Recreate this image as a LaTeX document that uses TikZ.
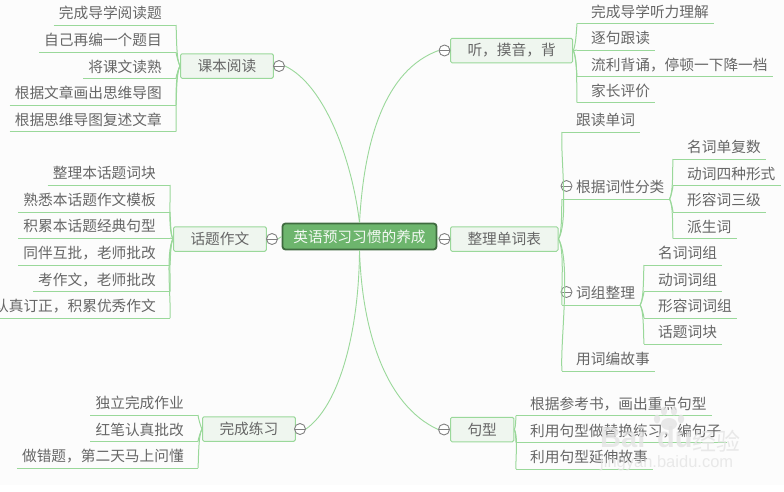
\documentclass[tikz,border=0pt]{standalone}
\usepackage{fontspec}
\setmainfont{Noto Sans CJK SC}
\newfontfamily\stampfont{Liberation Sans}
\usepackage{tikz}
\definecolor{leafgreen}{HTML}{9AD89A}
\definecolor{boxfill}{HTML}{EFF6EF}
\definecolor{rootfill}{HTML}{6DB56D}
\definecolor{rootedge}{HTML}{3F6B3F}
\definecolor{inkgray}{HTML}{666666}
\definecolor{stampgray}{HTML}{E4E4E4}
\tikzset{
  treefont/.style = {font=\fontsize{14.7}{17}\selectfont, text=inkgray},
  root/.style = {rectangle, rounded corners=3pt, draw=rootedge, line width=1.8pt,
    fill=rootfill, text=white!92!rootfill, font=\fontsize{14.7}{17}\selectfont,
    minimum width=154pt, minimum height=26pt, inner sep=0pt},
  mainbox/.style = {treefont, rectangle, rounded corners=1.5pt, draw=leafgreen, line width=1pt,
    fill=boxfill, anchor=west, minimum height=24.5pt, inner ysep=0pt, inner xsep=17pt},
  leafl/.style = {treefont, anchor=south east, minimum height=23pt, inner sep=0pt,
    execute at begin node=\hspace*{5pt}, execute at end node=\hspace*{14pt}},
  leafr/.style = {treefont, anchor=south west, minimum height=23pt, inner sep=0pt,
    execute at begin node=\hspace*{14pt}, execute at end node=\hspace*{5pt}},
  fold/.style = {circle, draw=gray, line width=0.9pt, fill=white, minimum size=11pt, inner sep=0pt,
    path picture={\draw[gray, line width=0.9pt] (path picture bounding box.west) -- (path picture bounding box.east);}},
  branch/.style = {draw=leafgreen, line width=0.9pt},
  twig/.style = {draw=leafgreen, line width=1pt},
  stamp/.style = {text=stampgray, opacity=0.8, inner sep=0pt}
}
\begin{document}
\begin{tikzpicture}[x=1pt,y=1pt]
\useasboundingbox (0,0) rectangle (784,-491);
\fill[white] (0,0) rectangle (784,-491);
\fill[black!1] (0,0) rectangle (784,-485);

\node [root] (root) at (359.5,-236.5) {英语预习习惯的养成};

% left side
\node [mainbox] (read) at (180,-66) {课本阅读};
\node [fold] (foldread) at (279,-66) {};
\node [leafl] (read1) at (176,-25) {完成导学阅读题};
\node [leafl] (read2) at (176,-52) {自己再编一个题目};
\node [leafl] (read3) at (176,-78.5) {将课文读熟};
\node [leafl] (read4) at (176,-105) {根据文章画出思维导图};
\node [leafl] (read5) at (176,-131.5) {根据思维导图复述文章};

\node [mainbox] (essay) at (173,-239) {话题作文};
\node [fold] (foldessay) at (272,-239) {};
\node [leafl] (essay1) at (170,-185) {整理本话题词块};
\node [leafl] (essay2) at (170,-212) {熟悉本话题作文模板};
\node [leafl] (essay3) at (170,-238) {积累本话题经典句型};
\node [leafl] (essay4) at (170,-265) {同伴互批，老师批改};
\node [leafl] (essay5) at (170,-291.5) {考作文，老师批改};
\node [leafl] (essay6) at (170,-318) {认真订正，积累优秀作文};

\node [mainbox] (work) at (202,-429) {完成练习};
\node [fold] (foldwork) at (300,-429) {};
\node [leafl] (work1) at (198,-415) {独立完成作业};
\node [leafl] (work2) at (198,-441.5) {红笔认真批改};
\node [leafl] (work3) at (198,-468) {做错题，第二天马上问懂};

% right side
\node [mainbox] (listen) at (450,-50.5) {听，摸音，背};
\node [fold] (foldlisten) at (444.5,-50.5) {};
\node [leafr] (listen1) at (577,-23.5) {完成导学听力理解};
\node [leafr] (listen2) at (577,-50) {逐句跟读};
\node [leafr] (listen3) at (577,-76.5) {流利背诵，停顿一下降一档};
\node [leafr] (listen4) at (577,-102.5) {家长评价};

\node [mainbox] (word) at (450,-239) {整理单词表};
\node [fold] (foldword) at (444.5,-239) {};
\node [leafr] (word1) at (562,-132) {跟读单词};
\node [leafr] (word2) at (562,-199) {根据词性分类};
\node [leafr] (word3) at (562,-305) {词组整理};
\node [leafr] (word4) at (562,-371) {用词编故事};
\node [fold] (foldkind) at (566.5,-186) {};
\node [fold] (foldgroup) at (566.5,-292) {};

\node [leafr] (kind1) at (673,-159) {名词单复数};
\node [leafr] (kind2) at (673,-185.5) {动词四种形式};
\node [leafr] (kind3) at (673,-212) {形容词三级};
\node [leafr] (kind4) at (673,-238.5) {派生词};

\node [leafr] (group1) at (644,-265) {名词词组};
\node [leafr] (group2) at (644,-291.5) {动词词组};
\node [leafr] (group3) at (644,-318) {形容词词组};
\node [leafr] (group4) at (644,-344) {话题词块};

\node [mainbox] (sent) at (450,-429.5) {句型};
\node [fold] (foldsent) at (444,-429.5) {};
\node [leafr] (sent1) at (516,-415.7) {根据参考书，画出重点句型};
\node [leafr] (sent2) at (516,-442.5) {利用句型做替换练习，编句子};
\node [leafr] (sent3) at (516,-469) {利用句型延伸故事};

% big curves from the root
\draw [branch] (root.north) .. controls (352,-160) and (325,-85) .. (foldread.east);
\draw [branch] (root.north) .. controls (364,-140) and (385,-70) .. (foldlisten.west);
\draw [branch] (root.south) .. controls (359,-330) and (340,-405) .. (foldwork.east);
\draw [branch] (root.south) .. controls (362,-330) and (385,-405) .. (foldsent.west);
\draw [branch] (root.west) -- (foldessay.east);
\draw [branch] (root.east) -- (foldword.west);

% underlines
\foreach \n in {read1,read2,read3,read4,read5,essay1,essay2,essay3,essay4,essay5,essay6,
    work1,work2,work3,listen1,listen2,listen3,listen4,word1,word2,word3,word4,
    kind1,kind2,kind3,kind4,group1,group2,group3,group4,sent1,sent2,sent3}
  \draw [twig] (\n.south west) -- (\n.south east);

% twigs
\foreach \n in {read1,read2}
  \draw [twig] (read.west) to[out=120,in=-85,looseness=0.5] (\n.south east);
\foreach \n in {read3,read4,read5}
  \draw [twig] (read.west) to[out=-120,in=85,looseness=0.5] (\n.south east);
\foreach \n in {essay1,essay2,essay3}
  \draw [twig] (essay.west) to[out=120,in=-85,looseness=0.5] (\n.south east);
\foreach \n in {essay4,essay5,essay6}
  \draw [twig] (essay.west) to[out=-120,in=85,looseness=0.5] (\n.south east);
\draw [twig] (work.west) to[out=120,in=-85,looseness=0.5] (work1.south east);
\foreach \n in {work2,work3}
  \draw [twig] (work.west) to[out=-120,in=85,looseness=0.5] (\n.south east);
\foreach \n in {listen1,listen2}
  \draw [twig] (listen.east) to[out=60,in=-95,looseness=0.5] (\n.south west);
\foreach \n in {listen3,listen4}
  \draw [twig] (listen.east) to[out=-60,in=95,looseness=0.5] (\n.south west);
\foreach \n in {word1,word2}
  \draw [twig] (word.east) to[out=60,in=-95,looseness=0.5] (\n.south west);
\foreach \n in {word3,word4}
  \draw [twig] (word.east) to[out=-60,in=95,looseness=0.5] (\n.south west);
\foreach \n in {kind1,kind2}
  \draw [twig] (word2.south east) to[out=60,in=-95,looseness=0.5] (\n.south west);
\foreach \n in {kind3,kind4}
  \draw [twig] (word2.south east) to[out=-60,in=95,looseness=0.5] (\n.south west);
\foreach \n in {group1,group2}
  \draw [twig] (word3.south east) to[out=60,in=-95,looseness=0.5] (\n.south west);
\foreach \n in {group3,group4}
  \draw [twig] (word3.south east) to[out=-60,in=95,looseness=0.5] (\n.south west);
\draw [twig] (sent.east) to[out=60,in=-95,looseness=0.5] (sent1.south west);
\foreach \n in {sent2,sent3}
  \draw [twig] (sent.east) to[out=-60,in=95,looseness=0.5] (\n.south west);

% watermark
\node [stamp, anchor=west, font=\stampfont\bfseries\fontsize{29}{30}\selectfont] (stampbai) at (600,-437) {Bai};
\node [stamp, anchor=west, font=\stampfont\bfseries\fontsize{29}{30}\selectfont] (stampdu) at (657,-437) {du};
\node [stamp, anchor=west, font=\fontsize{24}{26}\selectfont] (stampjy) at (692,-441) {经验};
\node [stamp, anchor=west, font=\stampfont\fontsize{16.5}{18}\selectfont] (stampurl) at (600,-463) {jingyan.baidu.com};
\foreach \a/\b in {657/-419,664/-411,674/-411,681/-419}
  \fill [stampgray, opacity=0.8] (\a,\b) circle [x radius=3.2pt, y radius=4.5pt];
\fill [stampgray, opacity=0.8] (669,-424) circle [x radius=8pt, y radius=6pt];
\end{tikzpicture}
\end{document}
